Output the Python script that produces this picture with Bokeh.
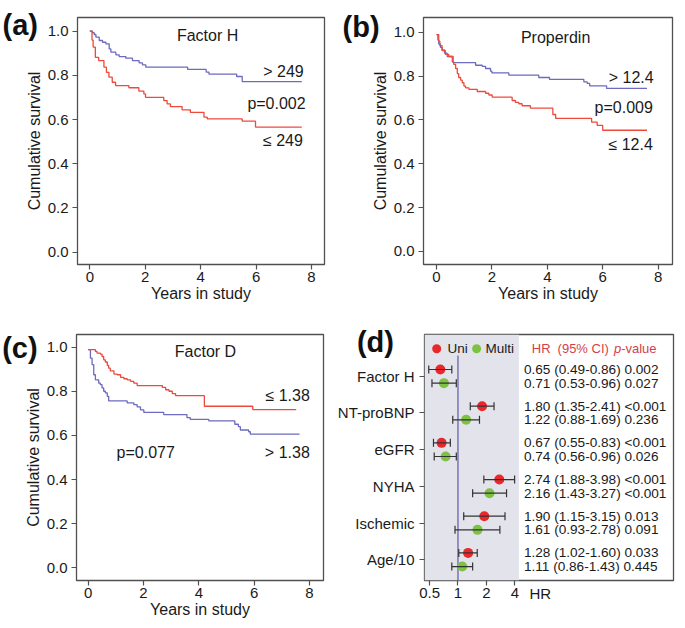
from bokeh.plotting import figure
from bokeh.layouts import column, row
from bokeh.models import (FixedTicker, NumeralTickFormatter, Range1d,
                          ColumnDataSource, Whisker, TeeHead, BoxAnnotation)
from bokeh.core.properties import value
from bokeh.embed import file_html
from bokeh.resources import INLINE

FONT = "Liberation Sans"
BLUE = "#6b6bbf"
RED = "#ee4a3c"
DOT_RED = "#e8282c"
DOT_GREEN = "#7dc242"
HEAD_RED = "#d43f4a"
FRAME = "#505050"
TXT = "#1a1a1a"

# ---------------- data: Kaplan-Meier steps ----------------
# (a) Factor H
a_hi_t = [0, 0.10, 0.16, 0.22, 0.34, 0.46, 0.58, 0.70, 0.76, 0.94, 1.06, 1.30, 1.54, 1.78, 1.90, 2.02, 3.53, 4.20, 4.30, 5.30, 5.50, 7.65]
a_hi_s = [1.0, 0.993, 0.985, 0.973, 0.958, 0.950, 0.943, 0.920, 0.905, 0.893, 0.885, 0.878, 0.867, 0.857, 0.848, 0.837, 0.827, 0.815, 0.806, 0.795, 0.772, 0.772]
a_lo_t = [0, 0.08, 0.12, 0.20, 0.32, 0.51, 0.60, 0.69, 0.81, 0.93, 1.41, 1.77, 1.95, 2.01, 2.67, 2.79, 2.91, 3.33, 3.63, 4.12, 4.24, 5.50, 5.98, 7.65]
a_lo_s = [1.0, 0.960, 0.928, 0.882, 0.867, 0.837, 0.814, 0.792, 0.769, 0.754, 0.744, 0.729, 0.716, 0.701, 0.686, 0.671, 0.659, 0.644, 0.633, 0.611, 0.603, 0.593, 0.566, 0.566]
# (b) Properdin
b_hi_t = [0, 0.05, 0.08, 0.14, 0.20, 0.29, 0.385, 0.60, 1.41, 1.65, 1.77, 1.95, 2.0, 2.61, 3.69, 4.08, 5.32, 5.44, 5.53, 6.14, 7.60]
b_hi_s = [0.99, 0.965, 0.947, 0.932, 0.92, 0.905, 0.89, 0.862, 0.85, 0.845, 0.835, 0.823, 0.815, 0.805, 0.794, 0.785, 0.774, 0.767, 0.756, 0.744, 0.744]
b_lo_t = [0, 0.08, 0.12, 0.20, 0.32, 0.44, 0.57, 0.62, 0.69, 0.75, 0.80, 0.87, 0.93, 0.99, 1.05, 1.17, 1.47, 1.77, 1.89, 2.01, 2.73, 2.85, 2.97, 3.09, 3.39, 4.20, 4.30, 5.60, 5.80, 6.00, 7.60]
b_lo_s = [0.99, 0.96, 0.94, 0.917, 0.90, 0.89, 0.865, 0.854, 0.835, 0.812, 0.794, 0.782, 0.77, 0.755, 0.747, 0.74, 0.73, 0.722, 0.714, 0.704, 0.689, 0.68, 0.674, 0.665, 0.654, 0.625, 0.607, 0.59, 0.575, 0.553, 0.553]
# (c) Factor D
c_lo_t = [0, 0.26, 0.32, 0.44, 0.50, 0.56, 0.62, 0.69, 0.74, 0.80, 0.93, 1.05, 1.17, 1.29, 1.41, 1.53, 1.65, 1.77, 2.68, 2.80, 2.92, 3.04, 3.16, 4.20, 5.95, 7.52]
c_lo_s = [0.99, 0.982, 0.974, 0.970, 0.959, 0.944, 0.934, 0.919, 0.906, 0.894, 0.879, 0.876, 0.864, 0.858, 0.853, 0.846, 0.838, 0.827, 0.819, 0.808, 0.801, 0.79, 0.781, 0.733, 0.718, 0.718]
c_hi_t = [0, 0.08, 0.14, 0.20, 0.26, 0.38, 0.44, 0.50, 0.56, 0.62, 0.69, 0.74, 1.41, 1.65, 1.77, 1.89, 2.01, 2.73, 3.57, 3.69, 4.36, 5.30, 5.43, 5.50, 5.80, 5.86, 7.64]
c_hi_s = [0.99, 0.952, 0.922, 0.876, 0.853, 0.838, 0.831, 0.816, 0.801, 0.794, 0.778, 0.757, 0.748, 0.740, 0.730, 0.716, 0.705, 0.695, 0.681, 0.673, 0.666, 0.651, 0.640, 0.625, 0.617, 0.606, 0.606]

y_ticks = [0.0, 0.2, 0.4, 0.6, 0.8, 1.0]
x_ticks = [0, 2, 4, 6, 8]

# ---------------- data: forest plot ----------------
cats = ["Factor H", "NT-proBNP", "eGFR", "NYHA", "Ischemic", "Age/10"]
uni_hr = [0.65, 1.80, 0.67, 2.74, 1.90, 1.28]
uni_lo = [0.49, 1.35, 0.55, 1.88, 1.15, 1.02]
uni_hi = [0.86, 2.41, 0.83, 3.98, 3.15, 1.60]
uni_p = ["0.002", "<0.001", "<0.001", "<0.001", "0.013", "0.033"]
mul_hr = [0.71, 1.22, 0.74, 2.16, 1.61, 1.11]
mul_lo = [0.53, 0.88, 0.56, 1.43, 0.93, 0.86]
mul_hi = [0.96, 1.69, 0.96, 3.27, 2.78, 1.43]
mul_p = ["0.027", "0.236", "0.026", "<0.001", "0.091", "0.445"]
hr_ticks = [0.5, 1, 2, 4]


def style_axes(p, xlab=None, ylab=None):
    p.xgrid.visible = False
    p.ygrid.visible = False
    p.outline_line_color = FRAME
    p.outline_line_width = 1.3
    p.outline_line_alpha = 1.0
    p.background_fill_color = "white"
    p.border_fill_color = "white"
    for ax in (p.xaxis[0], p.yaxis[0]):
        ax.axis_line_color = None
        ax.major_tick_out = 5
        ax.major_tick_in = 0
        ax.major_tick_line_color = FRAME
        ax.major_tick_line_width = 1.2
        ax.minor_tick_line_color = None
        ax.major_label_text_font = FONT
        ax.major_label_text_font_size = "15px"
        ax.major_label_text_color = TXT
        ax.axis_label_text_font = FONT
        ax.axis_label_text_font_size = "16px"
        ax.axis_label_text_font_style = "normal"
        ax.axis_label_text_color = TXT
    p.xaxis[0].major_label_standoff = 2
    p.xaxis[0].axis_label_standoff = 0
    p.yaxis[0].major_label_standoff = 4
    p.yaxis[0].axis_label_standoff = 2
    if xlab:
        p.xaxis[0].axis_label = xlab
    if ylab:
        p.yaxis[0].axis_label = ylab


def free_text(p, x, y, txt, size, align="left", style="normal", color=TXT):
    # text glyph drawn at overlay level so it may sit outside the plot frame
    p.text(x=[x], y=[y], text=[txt], text_font=value(FONT), text_font_size=size,
           text_font_style=style, text_align=align, text_baseline="middle",
           text_color=color, level="overlay")


def km_panel(width, height, bl, br, bt, bb, xr, yr, curves, title, title_xy,
             notes, tag, tag_xy):
    p = figure(width=width, height=height, x_range=Range1d(*xr), y_range=Range1d(*yr),
               output_backend="svg", toolbar_location=None,
               min_border_left=bl, min_border_right=br, min_border_top=bt, min_border_bottom=bb)
    style_axes(p, "Years in study", "Cumulative survival")
    p.xaxis[0].ticker = FixedTicker(ticks=x_ticks)
    p.yaxis[0].ticker = FixedTicker(ticks=y_ticks)
    p.yaxis[0].formatter = NumeralTickFormatter(format="0.0")
    for t, s, col in curves:
        p.step(t, s, mode="after", line_color=col, line_width=1.3)
    p.text(x=[title_xy[0]], y=[title_xy[1]], text=[title], text_font=value(FONT),
           text_font_size="16px", text_align="center", text_baseline="middle", text_color=TXT)
    for (tx, ty, txt, al) in notes:
        p.text(x=[tx], y=[ty], text=[txt], text_font=value(FONT), text_font_size="16px",
               text_align=al, text_baseline="middle", text_color=TXT)
    free_text(p, tag_xy[0], tag_xy[1], tag, "29px", style="bold", color="#111111")
    return p


pa = km_panel(336, 316, 77, 12, 17, 52, (-0.444, 8.47), (-0.0557, 1.062),
              [(a_hi_t, a_hi_s, BLUE), (a_lo_t, a_lo_s, RED)],
              "Factor H", (4.25, 0.98),
              [(7.72, 0.818, "> 249", "right"), (7.79, 0.671, "p=0.002", "right"),
               (7.69, 0.505, "\u2264 249", "right")],
              "(a)", (-3.15, 1.026))

pb = km_panel(344, 316, 87, 8, 15, 51, (-0.47, 8.52), (-0.06, 1.068),
              [(b_hi_t, b_hi_s, BLUE), (b_lo_t, b_lo_s, RED)],
              "Properdin", (4.3, 0.977),
              [(7.84, 0.793, "> 12.4", "right"), (7.81, 0.657, "p=0.009", "right"),
               (7.81, 0.489, "\u2264 12.4", "right")],
              "(b)", (-3.39, 1.023))

pc = km_panel(334, 310, 76, 11, 17, 46, (-0.423, 8.506), (-0.059, 1.059),
              [(c_hi_t, c_hi_s, BLUE), (c_lo_t, c_lo_s, RED)],
              "Factor D", (4.24, 0.982),
              [(8.01, 0.783, "\u2264 1.38", "right"), (8.01, 0.522, "> 1.38", "right"),
               (2.08, 0.522, "p=0.077", "center")],
              "(c)", (-3.11, 0.997))

# ---------------- forest plot ----------------
n = len(cats)
ypos = [n - i for i in range(n)]
off = 0.186
y_u = [y + off for y in ypos]
y_m = [y - off for y in ypos]

pd_ = figure(width=346, height=310, x_axis_type="log",
             x_range=Range1d(0.4418, 192.2), y_range=Range1d(0.433, 7.14),
             output_backend="svg", toolbar_location=None,
             min_border_left=88, min_border_right=7, min_border_top=18, min_border_bottom=46)
style_axes(pd_)
pd_.xaxis[0].ticker = FixedTicker(ticks=hr_ticks)
pd_.xaxis[0].formatter = NumeralTickFormatter(format="0.[0]")
pd_.yaxis[0].ticker = FixedTicker(ticks=ypos)
pd_.yaxis[0].major_label_overrides = {float(y): c for y, c in zip(ypos, cats)}
pd_.yaxis[0].major_label_standoff = 5

pd_.add_layout(BoxAnnotation(right=4.42, fill_color="#e3e3ec", fill_alpha=1.0,
                             line_color=None, level="underlay"))
pd_.segment(x0=[1], y0=[pd_.y_range.start], x1=[1], y1=[6.57], line_color="#5a5aa8", line_width=1.2)

for hr, lo, hi, ys, col in ((uni_hr, uni_lo, uni_hi, y_u, DOT_RED),
                            (mul_hr, mul_lo, mul_hi, y_m, DOT_GREEN)):
    src = ColumnDataSource(dict(hr=hr, lo=lo, hi=hi, y=ys))
    w = Whisker(base="y", lower="lo", upper="hi", dimension="width", source=src,
                line_color="#333333", line_width=1.2, level="glyph",
                upper_head=TeeHead(size=8, line_color="#333333", line_width=1.2),
                lower_head=TeeHead(size=8, line_color="#333333", line_width=1.2))
    pd_.add_layout(w)
    pd_.scatter("hr", "y", source=src, size=10, marker="circle", fill_color=col, line_color=None)

uni_txt = [f"{h:.2f} ({l:.2f}-{u:.2f}) {pv}" for h, l, u, pv in zip(uni_hr, uni_lo, uni_hi, uni_p)]
mul_txt = [f"{h:.2f} ({l:.2f}-{u:.2f}) {pv}" for h, l, u, pv in zip(mul_hr, mul_lo, mul_hi, mul_p)]
pd_.text(x=[5.0] * n, y=y_u, text=uni_txt, text_font=value(FONT), text_font_size="13.6px",
         text_align="left", text_baseline="middle", text_color=TXT)
pd_.text(x=[5.0] * n, y=y_m, text=mul_txt, text_font=value(FONT), text_font_size="13.6px",
         text_align="left", text_baseline="middle", text_color=TXT)

# legend + header row
ly = 6.75
pd_.scatter(x=[0.595], y=[ly], size=9, marker="circle", fill_color=DOT_RED, line_color=None)
pd_.scatter(x=[1.575], y=[ly], size=9, marker="circle", fill_color=DOT_GREEN, line_color=None)
pd_.text(x=[0.776, 1.96], y=[ly, ly], text=["Uni", "Multi"], text_font=value(FONT),
         text_font_size="13.5px", text_align="left", text_baseline="middle", text_color=TXT)
pd_.text(x=[6.06, 11.36, 53.6], y=[ly] * 3, text=["HR", "(95% CI)", "-value"], text_font=value(FONT),
         text_font_size="13px", text_align="left", text_baseline="middle", text_color=HEAD_RED)
pd_.text(x=[45.1], y=[ly], text=["p"], text_font=value(FONT), text_font_style="italic",
         text_font_size="13px", text_align="left", text_baseline="middle", text_color=HEAD_RED)

free_text(pd_, 5.73, 0.087, "HR", "15px")
free_text(pd_, 0.085, 6.93, "(d)", "29px", style="bold", color="#111111")

layout = column(row(pa, pb), row(pc, pd_))
open("out.html", "w").write(file_html(layout, INLINE))
